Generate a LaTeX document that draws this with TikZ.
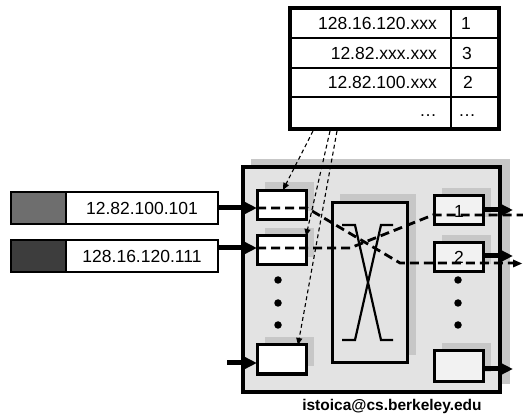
\documentclass[tikz,border=0pt]{standalone}
\usepackage{fontspec}
\setmainfont{Liberation Sans}
\usetikzlibrary{arrows.meta}
\definecolor{shadowgray}{gray}{0.78}
\definecolor{boxgray}{gray}{0.89}
\definecolor{outfill}{gray}{0.95}
\definecolor{pkone}{gray}{0.43}
\definecolor{pktwo}{gray}{0.24}
\begin{document}
\begin{tikzpicture}[x=1pt,y=-1pt,
  txt/.style={font=\fontsize{17.5}{20}\selectfont, inner sep=0pt},
  bufbox/.style={draw, line width=3pt, fill=white, minimum width=49pt, minimum height=29pt, inner sep=0pt, outer sep=0pt},
  outbox/.style={bufbox, fill=outfill},
  bigarrow/.style={line width=5pt, -{Triangle[length=15pt,width=14pt]}},
  pathdash/.style={line width=2.8pt, dash pattern=on 9pt off 5pt},
  lookup/.style={line width=1.1pt, dash pattern=on 4pt off 3pt, -{Triangle[length=7pt,width=6pt]}},
  dotmark/.style={fill=black, draw=none, circle, minimum size=7.5pt, inner sep=0pt}]
\useasboundingbox (0,0) rectangle (523,417);

% router
\fill[shadowgray] (251,159) rectangle (510,384);
\node[draw, line width=3.3pt, fill=boxgray, minimum width=257pt, minimum height=225pt, inner sep=0pt] (router) at (371.5,279.5) {};

% shadows of buffers and switch
\fill[shadowgray] (265,182) rectangle (314,211);
\fill[shadowgray] (265,228) rectangle (314,257);
\fill[shadowgray] (265,337) rectangle (314,366);
\fill[shadowgray] (442,188) rectangle (491,217);
\fill[shadowgray] (442,235) rectangle (491,264);
\fill[shadowgray] (442,343) rectangle (491,372);
\fill[shadowgray] (340,194) rectangle (416,355);

% input buffers
\node[bufbox] (ib1) at (281.5,205.5) {};
\node[bufbox] (ib2) at (281.5,250.5) {};
\node[bufbox] (ib3) at (281.5,359.5) {};
% output buffers
\node[outbox] (ob1) at (458.5,210.5) {};
\node[outbox] (ob2) at (458.5,257.5) {};
\node[outbox, minimum height=30pt] (ob3) at (458.5,366) {};
\node[txt] (l1) at (459,211) {1};
\node[txt] (l2) at (459,257) {2};

% switch fabric
\node[draw, line width=3pt, fill=boxgray, minimum width=75pt, minimum height=160pt, inner sep=0pt] (sw) at (369.5,283) {};
\draw[line width=2.2pt] (342,225) -- (355,225) -- (381,340) -- (393,340);
\draw[line width=2.2pt] (393,225) -- (381,225) -- (355,340) -- (342,340);

% dots
\foreach \yy [count=\i] in {280,303,325} {
  \node[dotmark] (dl\i) at (278,\yy) {};
  \node[dotmark] (dr\i) at (458,\yy) {};
}

% packet paths
\coordinate (pa0) at (257,208);
\coordinate (pa1) at (307,208);
\coordinate (pa2) at (400,263);
\coordinate (pa3) at (516,263);
\draw[pathdash] (pa0) -- (pa1) -- (pa2) -- (pa3);
\fill (522,263.5) -- (513,259.5) -- (513,267.5) -- cycle;
\coordinate (pb0) at (257,248);
\coordinate (pb1) at (350,248);
\coordinate (pb2) at (433,215);
\coordinate (pb3) at (523,215);
\draw[pathdash] (pb0) -- (pb1) -- (pb2) -- (pb3);

% packets
\node[draw, line width=1.5pt, fill=white, minimum width=207pt, minimum height=32pt, inner sep=0pt] (pk1) at (114.5,208) {};
\fill[pkone, draw=black, line width=1.5pt] (11,192) rectangle (66,224);
\node[txt] (pk1t) at (142,208) {12.82.100.101};
\node[draw, line width=1.5pt, fill=white, minimum width=207pt, minimum height=32pt, inner sep=0pt] (pk2) at (114.5,256) {};
\fill[pktwo, draw=black, line width=1.5pt] (11,240) rectangle (66,272);
\node[txt] (pk2t) at (142,256) {128.16.120.111};

% input arrows
\coordinate (ia1) at (218,208);
\coordinate (ia2) at (218,248);
\coordinate (ia3) at (227,363);
\draw[bigarrow] (ia1) -- (ia1 -| ib1.west);
\draw[bigarrow] (ia2) -- (ia2 -| ib2.west);
\draw[bigarrow] (ia3) -- (ia3 -| ib3.west);
% output arrows
\coordinate (oa1) at (513,210);
\coordinate (oa2) at (513,256);
\coordinate (oa3) at (513,369);
\draw[bigarrow] (oa1 -| ob1.east) -- (oa1);
\draw[bigarrow] (oa2 -| ob2.east) -- (oa2);
\draw[bigarrow] (oa3 -| ob3.east) -- (oa3);

% table
\node[draw, line width=3.2pt, fill=white, minimum width=209pt, minimum height=121pt, inner sep=0pt] (tab) at (394.5,68.5) {};
\draw[line width=1.6pt] (451,8) -- (451,129);
\draw[line width=1.6pt] (290,38) -- (499,38);
\draw[line width=1.6pt] (290,68) -- (499,68);
\draw[line width=1.6pt] (290,97) -- (499,97);
\node[txt, anchor=east] (t1a) at (437,23) {128.16.120.xxx};
\node[txt, anchor=east] (t2a) at (437,53) {12.82.xxx.xxx};
\node[txt, anchor=east] (t3a) at (437,82.5) {12.82.100.xxx};
\node[txt, anchor=east] (t4a) at (437,116) {\dots};
\node[txt] (t1b) at (466,23) {1};
\node[txt] (t2b) at (467,53) {3};
\node[txt] (t3b) at (468,82.5) {2};
\node[txt] (t4b) at (467,116) {\dots};

% lookups
\coordinate (la) at (313,131);
\coordinate (lb) at (330,131);
\coordinate (lc) at (337,131);
\draw[lookup] (la) -- (283,190);
\draw[lookup] (lb) -- (ib2.north east);
\draw[lookup] (lc) -- (298,345);

% footer
\node[font=\bfseries\fontsize{15.5}{18}\selectfont, inner sep=0pt] (foot) at (392,406) {istoica@cs.berkeley.edu};
\end{tikzpicture}
\end{document}
